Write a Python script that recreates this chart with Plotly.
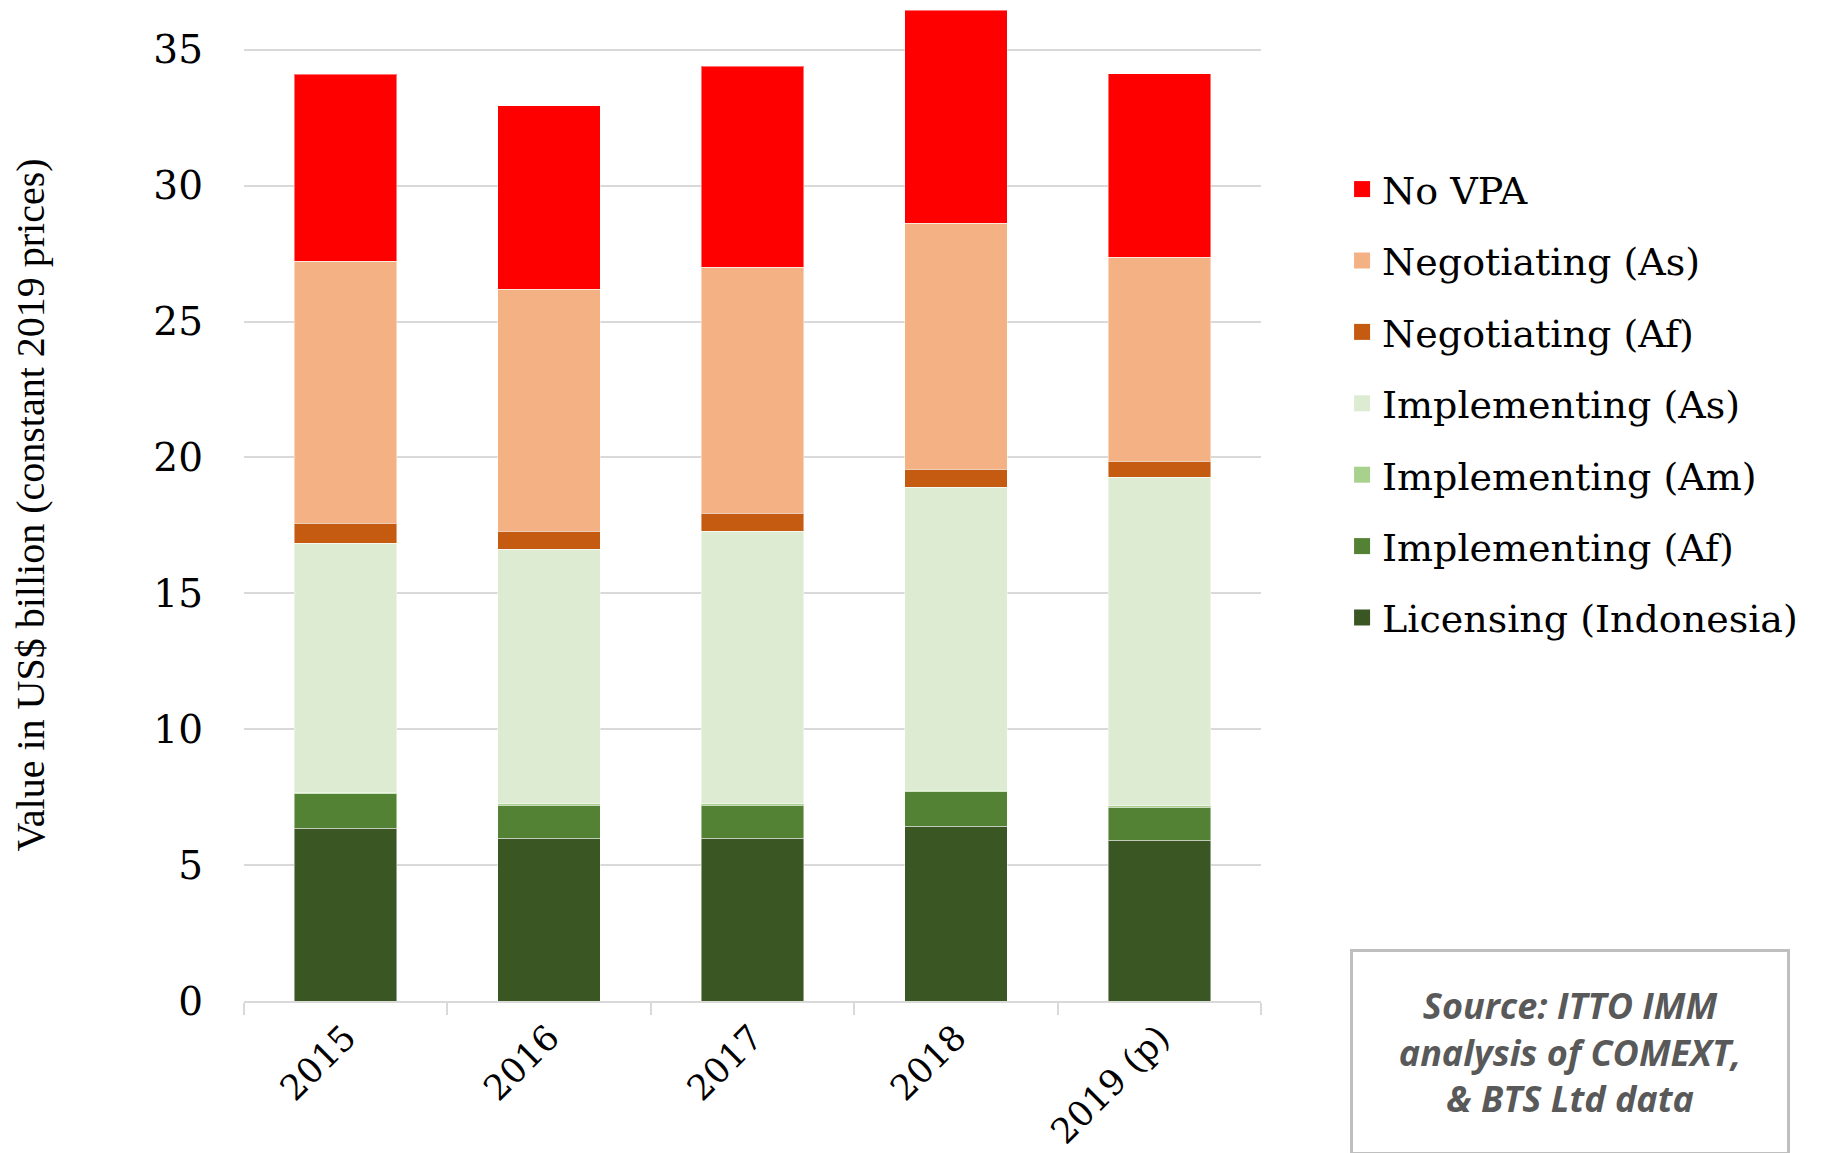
import plotly.graph_objects as go

years = ["2015", "2016", "2017", "2018", "2019 (p)"]

licensing_indonesia = [6.36, 5.99, 5.99, 6.43, 5.92]
implementing_af = [1.26, 1.21, 1.22, 1.27, 1.21]
implementing_am = [0.05, 0.05, 0.05, 0.05, 0.05]
implementing_as = [9.18, 9.38, 10.02, 11.16, 12.09]
negotiating_af = [0.73, 0.66, 0.67, 0.66, 0.59]
negotiating_as = [9.63, 8.90, 9.05, 9.04, 7.50]
no_vpa = [6.89, 6.75, 7.40, 7.85, 6.75]

series_names = ["Licensing (Indonesia)", "Implementing (Af)", "Implementing (Am)",
                "Implementing (As)", "Negotiating (Af)", "Negotiating (As)", "No VPA"]
series_values = [licensing_indonesia, implementing_af, implementing_am,
                 implementing_as, negotiating_af, negotiating_as, no_vpa]
series_colors = ["#3A5723", "#548235", "#A9D18E", "#DCEBD1", "#C55A11", "#F4B183", "#FF0000"]

y_ticks = [0, 5, 10, 15, 20, 25, 30, 35]

fig = go.Figure()
for name, vals, col in zip(series_names, series_values, series_colors):
    fig.add_trace(go.Bar(
        x=years, y=vals, name=name, marker_color=col,
        marker_line=dict(width=1, color="rgba(255,255,255,0.45)"),
        showlegend=False,
    ))
n = len(series_names)
for i, (name, col) in enumerate(zip(series_names, series_colors)):
    fig.add_trace(go.Scatter(
        x=[None], y=[None], mode="markers", name=name, legendgroup=name,
        legendrank=n - i,
        marker=dict(symbol="square", size=20, color=col),
    ))

serif = "DejaVu Serif"
fig.update_layout(
    width=1825, height=1153,
    barmode="stack", bargap=0.496,
    plot_bgcolor="white", paper_bgcolor="white",
    margin=dict(l=236, r=572, t=1, b=160, autoexpand=False),
    font=dict(family=serif, color="#000000", size=34),
    legend=dict(
        xref="container", yref="container", x=0.731, y=0.870,
        xanchor="left", yanchor="top",
        traceorder="grouped", tracegroupgap=19,
        font=dict(family=serif, size=38, color="#000000"),
        itemsizing="trace", bgcolor="rgba(0,0,0,0)",
    ),
    xaxis=dict(
        type="category", tickangle=-45,
        showline=True, linecolor="#D9D9D9", linewidth=2,
        ticks="outside", tickson="boundaries", ticklen=12, tickwidth=2, tickcolor="#D9D9D9",
        tickfont=dict(family=serif, size=35, color="#000000"),
        showgrid=False,
    ),
    yaxis=dict(
        range=[0, 36.5], tickvals=y_ticks, ticktext=[str(v) for v in y_ticks],
        showgrid=True, gridcolor="#D9D9D9", gridwidth=2,
        zeroline=False, showline=False, ticks="",
        ticklabelstandoff=40,
        tickfont=dict(family=serif, size=39, color="#000000"),
        title=dict(text="Value in US$ billion (constant 2019 prices)",
                   font=dict(family="Liberation Serif", size=40, color="#000000"),
                   standoff=100),
    ),
    annotations=[dict(
        xref="paper", yref="paper", x=(1570 - 244) / 1017, y=(1001 - 949) / 992,
        xanchor="center", yanchor="top", showarrow=False,
        text="Source: ITTO IMM<br>analysis of COMEXT,<br>& BTS Ltd data",
        font=dict(family="Open Sans", size=36, color="#595959", weight="bold", style="italic"),
        align="center", width=434, height=200, borderpad=0,
        bordercolor="#BFBFBF", borderwidth=3, bgcolor="white",
    )],
)

fig.write_html("out.html")
